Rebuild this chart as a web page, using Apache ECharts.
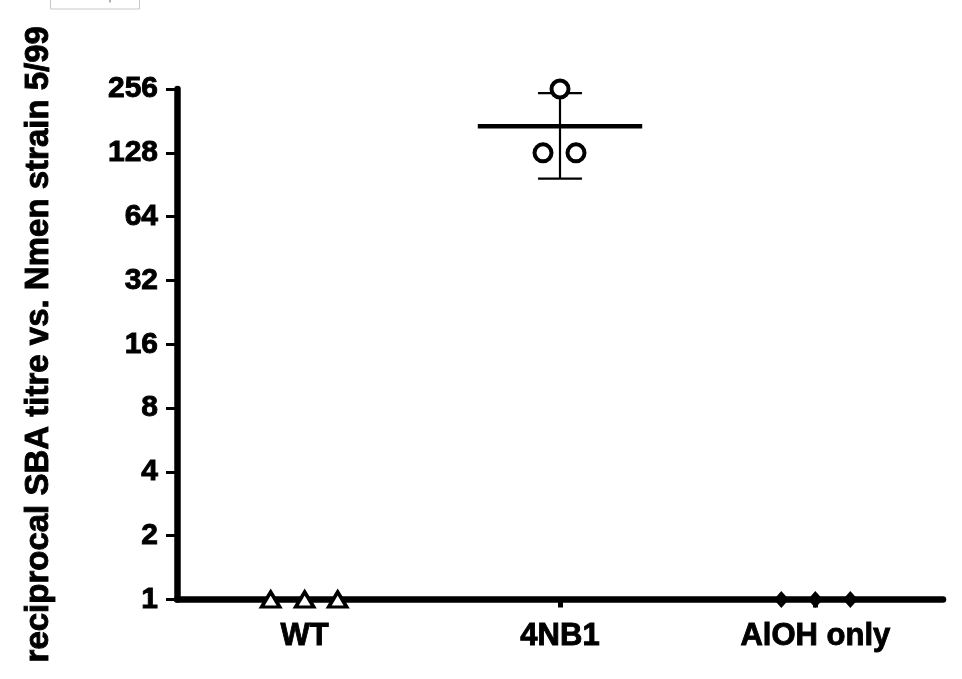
<!DOCTYPE html>
<html>
<head>
<meta charset="utf-8">
<script src="https://cdn.jsdelivr.net/npm/echarts@6/dist/echarts.min.js"></script>
<style>
html,body{margin:0;padding:0;background:#fff;}
#chart{width:962px;height:679px;}
</style>
</head>
<body>
<div id="chart"></div>
<script>
// ---- data ----
const categories = ['WT', '4NB1', 'AlOH only'];
const wtValues = [1, 1, 1];
const nb1Values = [128, 256, 128];
const alohValues = [1, 1, 1];
const yTicks = [1, 2, 4, 8, 16, 32, 64, 128, 256];
const yTitle = 'reciprocal SBA titre vs. Nmen strain 5/99';

// ---- styling / layout (not data) ----
const FONT = "'Liberation Sans', Arial, Helvetica, sans-serif";
const jitter = {
  WT: [-34, 0, 33],
  '4NB1': [-17, 0, 16],
  'AlOH only': [-34, 0, 35]
};

function meanSd(arr) {
  const m = arr.reduce((a, b) => a + b, 0) / arr.length;
  const v = arr.reduce((a, b) => a + (b - m) * (b - m), 0) / (arr.length - 1);
  return [m, Math.sqrt(v)];
}

const groups = [
  { name: 'WT', values: wtValues, symbol: 'triangle', size: [18, 15], fill: '#fff', border: 3.5 },
  { name: '4NB1', values: nb1Values, symbol: 'circle', size: 17, fill: '#fff', border: 4 },
  { name: 'AlOH only', values: alohValues, symbol: 'diamond', size: [15, 17], fill: '#000', border: 0 }
];

const summary = groups.map((g, i) => {
  const ms = meanSd(g.values);
  return [i, ms[0], ms[1]];
});

const series = [];
series.push({
  type: 'custom',
  z: 3,
  data: summary,
  renderItem: function (params, api) {
    const idx = api.value(0), m = api.value(1), sd = api.value(2);
    const band = api.size([1, 1])[0];
    const c = api.coord([idx, m]);
    const hi = api.coord([idx, m + sd]);
    const lo = api.coord([idx, Math.max(m - sd, 1e-9)]);
    const meanHalf = band * 0.322;
    const capHalf = band * 0.086;
    const children = [];
    if (sd > 0) {
      children.push({ type: 'line', shape: { x1: c[0], y1: hi[1], x2: c[0], y2: lo[1] }, style: { stroke: '#000', lineWidth: 2.2 } });
      children.push({ type: 'line', shape: { x1: c[0] - capHalf, y1: hi[1], x2: c[0] + capHalf, y2: hi[1] }, style: { stroke: '#000', lineWidth: 2.2 } });
      children.push({ type: 'line', shape: { x1: c[0] - capHalf, y1: lo[1], x2: c[0] + capHalf, y2: lo[1] }, style: { stroke: '#000', lineWidth: 2.2 } });
    }
    children.push({ type: 'line', shape: { x1: c[0] - meanHalf, y1: c[1], x2: c[0] + meanHalf, y2: c[1] }, style: { stroke: '#000', lineWidth: 4.5 } });
    return { type: 'group', children: children };
  }
});

groups.forEach((g, gi) => {
  series.push({
    type: 'scatter',
    name: g.name,
    z: 5,
    symbol: g.symbol,
    symbolSize: g.size,
    itemStyle: { color: g.fill, borderColor: '#000', borderWidth: g.border, opacity: 1 },
    data: g.values.map((v, k) => ({ value: [gi, v], symbolOffset: [jitter[g.name][k], 0] })),
    clip: false
  });
});

const boldText = { color: '#000', fontWeight: 'bold', fontFamily: FONT, textBorderColor: '#000', textBorderWidth: 0.9 };

const chart = echarts.init(document.getElementById('chart'), null, { renderer: 'canvas' });
chart.setOption({
  animation: false,
  backgroundColor: '#fff',
  textStyle: { fontFamily: FONT },
  grid: { left: 177, right: 19, top: 89, bottom: 79.5, containLabel: false },
  xAxis: {
    type: 'category',
    data: categories,
    boundaryGap: true,
    axisLine: { show: true, lineStyle: { color: '#000', width: 6.5 } },
    axisTick: { show: true, alignWithLabel: true, length: 8, lineStyle: { color: '#000', width: 5 } },
    axisLabel: Object.assign({ fontSize: 31, margin: 21 }, boldText),
    splitLine: { show: false }
  },
  yAxis: {
    type: 'log',
    logBase: 2,
    min: yTicks[0],
    max: yTicks[yTicks.length - 1],
    splitNumber: yTicks.length - 1,
    name: yTitle,
    nameLocation: 'middle',
    nameGap: 122,
    nameTextStyle: Object.assign({ fontSize: 33 }, boldText),
    axisLine: { show: true, lineStyle: { color: '#000', width: 6.5 } },
    axisTick: { show: true, length: 11, lineStyle: { color: '#000', width: 3 } },
    axisLabel: Object.assign({ fontSize: 30, margin: 19 }, boldText),
    splitLine: { show: false }
  },
  graphic: [
    { type: 'rect', shape: { x: 50.5, y: -1, width: 89, height: 10 }, style: { fill: '#fff', stroke: '#c8c8c8', lineWidth: 1 }, z: 10 },
    { type: 'line', shape: { x1: 110, y1: 0, x2: 110, y2: 2.5 }, style: { stroke: '#666', lineWidth: 1 }, z: 10 }
  ],
  series: series
});
</script>
</body>
</html>
